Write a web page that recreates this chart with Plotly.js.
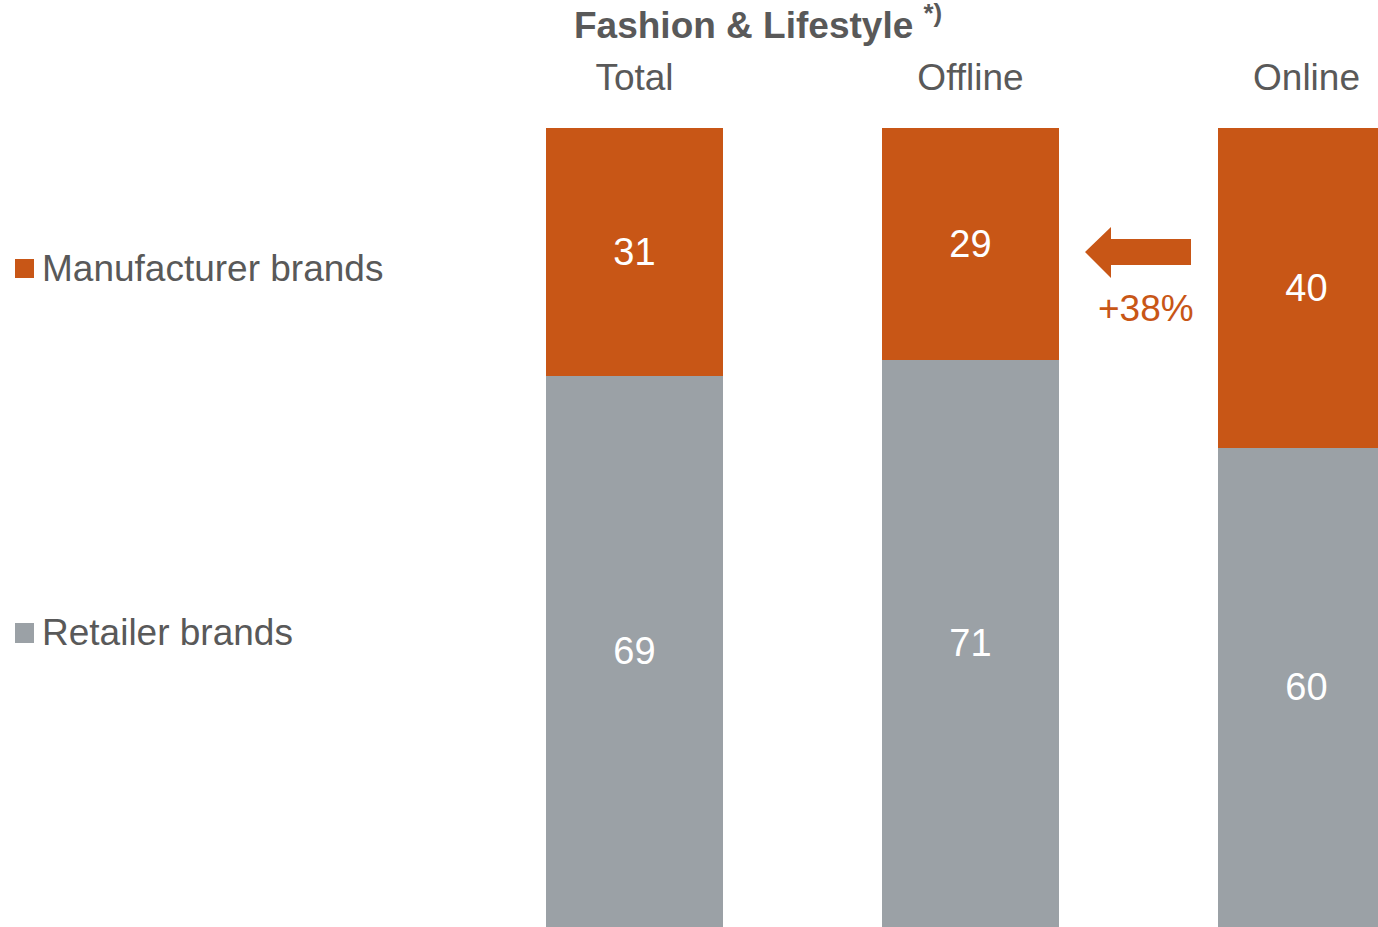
<!DOCTYPE html>
<html>
<head>
<meta charset="utf-8">
<script src="https://cdn.plot.ly/plotly-3.0.1.min.js"></script>
<style>html,body{margin:0;padding:0;background:#fff;}#chart{width:1378px;height:927px;}</style>
</head>
<body>
<div id="chart"></div>
<script>
const categories = ['Total', 'Offline', 'Online'];
const positions = [0, 1, 2];
const manufacturerBrands = [31, 29, 40];
const retailerBrands = [69, 71, 60];
const seriesNames = ['Manufacturer brands', 'Retailer brands'];
const changeLabel = '+38%';
const chartTitle = '<b>Fashion & Lifestyle</b> <sup><b>*)</b></sup>';

const ORANGE = '#C85616';
const GREY = '#9BA1A6';
const TEXT = '#595959';
const FONT = 'Liberation Sans, Arial, sans-serif';

// pixel helpers for decorations (plot: x=0 at 634.5px, 336px per category; y 0..100 over 799px from bottom)
const px2x = p => (p - 634.5) / 336;
const py2y = p => (927 - p) / 7.99;

const common = {
  type: 'bar', x: positions, width: 0.527,
  texttemplate: '%{y}', textposition: 'inside', insidetextanchor: 'middle',
  textangle: 0, constraintext: 'none',
  textfont: {color: '#ffffff', size: 38, family: FONT},
  hoverinfo: 'none', marker: {line: {width: 0}}
};

const traces = [
  Object.assign({}, common, {name: seriesNames[1], y: retailerBrands, marker: {color: GREY, line: {width: 0}}}),
  Object.assign({}, common, {name: seriesNames[0], y: manufacturerBrands, marker: {color: ORANGE, line: {width: 0}}})
];

const arrowPath = [
  'M', px2x(1085), py2y(252),
  'L', px2x(1111), py2y(227),
  'L', px2x(1111), py2y(239),
  'L', px2x(1191), py2y(239),
  'L', px2x(1191), py2y(265),
  'L', px2x(1111), py2y(265),
  'L', px2x(1111), py2y(278), 'Z'
].join(' ');

const layout = {
  width: 1378, height: 927,
  margin: {l: 0, r: 0, t: 128, b: 0, pad: 0},
  barmode: 'stack', showlegend: false,
  paper_bgcolor: '#ffffff', plot_bgcolor: '#ffffff',
  font: {family: FONT, color: TEXT},
  xaxis: {
    range: [px2x(0), px2x(1378)], side: 'top',
    tickmode: 'array', tickvals: positions, ticktext: categories,
    showgrid: false, zeroline: false, showline: false, ticks: '',
    ticklabelstandoff: 30,
    tickfont: {size: 37, color: TEXT, family: FONT}, fixedrange: true
  },
  yaxis: {range: [0, 100], visible: false, fixedrange: true},
  shapes: [
    {type: 'path', xref: 'x', yref: 'y', path: arrowPath, fillcolor: ORANGE, line: {width: 0}},
    {type: 'rect', xref: 'paper', yref: 'paper', x0: 15/1378, x1: 34/1378, y0: (927-278)/799, y1: (927-259)/799, fillcolor: ORANGE, line: {width: 0}},
    {type: 'rect', xref: 'paper', yref: 'paper', x0: 15/1378, x1: 34/1378, y0: (927-643)/799, y1: (927-623)/799, fillcolor: GREY, line: {width: 0}}
  ],
  annotations: [
    {xref: 'paper', yref: 'paper', x: 758/1378, y: (927-23)/799, text: chartTitle, showarrow: false,
     xanchor: 'center', yanchor: 'middle', font: {size: 37, color: TEXT, family: FONT}},
    {xref: 'x', yref: 'y', x: px2x(1146), y: py2y(308), text: changeLabel, showarrow: false,
     xanchor: 'center', yanchor: 'middle', font: {size: 37, color: ORANGE, family: FONT}},
    {xref: 'paper', yref: 'paper', x: 40/1378, y: (927-268)/799, text: seriesNames[0], showarrow: false,
     xanchor: 'left', yanchor: 'middle', font: {size: 37, color: TEXT, family: FONT}},
    {xref: 'paper', yref: 'paper', x: 40/1378, y: (927-632)/799, text: seriesNames[1], showarrow: false,
     xanchor: 'left', yanchor: 'middle', font: {size: 37, color: TEXT, family: FONT}}
  ]
};

Plotly.newPlot('chart', traces, layout, {displayModeBar: false, staticPlot: true});
</script>
</body>
</html>
